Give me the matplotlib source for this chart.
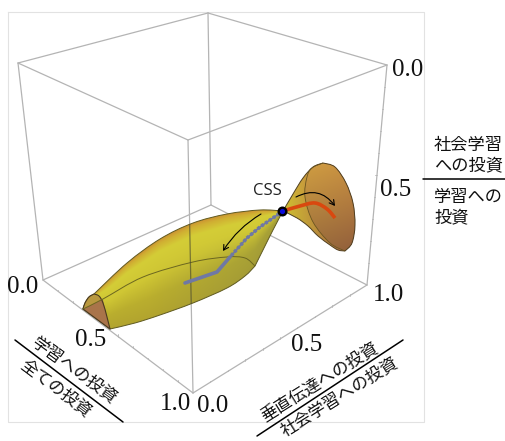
import numpy as np
import matplotlib
matplotlib.use("Agg")
import matplotlib.pyplot as plt
from matplotlib.path import Path
from matplotlib.patches import PathPatch, FancyArrowPatch, Circle

W, H = 505, 441
JP = ['Noto Sans CJK JP', 'DejaVu Sans']
SERIF = 'Liberation Serif'

# cube corners (px)
top_left, top_back, top_right, top_front = (18, 63), (208, 13), (387, 65), (188, 140)
bot_left, bot_back, bot_right, bot_front = (43, 280), (211, 205), (367, 285), (193, 393)

body_top = [(94, 294), (127, 263), (160, 239), (193, 223), (227, 214), (260, 210), (283, 211)]
body_neck = [(283, 211), (273, 230), (263, 250), (255, 266)]
body_bottom = [(255, 266), (245, 276), (227, 288), (193, 303), (160, 315), (135, 323), (110, 329)]
body_tip = [(83, 309), (85, 303), (89, 297), (94, 294)]
cap_right = [(94, 294), (99, 296), (103, 303), (107, 317), (110, 329)]
body_rim = [(83, 309), (103, 299), (143, 277), (193, 262), (227, 257), (245, 258), (255, 266)]
funnel_upper = [(283, 211), (293, 194), (303, 178), (313, 167), (323, 163)]
funnel_right = [(323, 163), (335, 167), (346, 183), (353, 203), (355, 225), (352, 243), (345, 251)]
funnel_lower = [(345, 251), (338, 250), (330, 245), (318, 236), (308, 226), (297, 218), (283, 211)]
funnel_rim = [(323, 163), (312, 168), (307, 177), (305, 197), (313, 222), (330, 243), (345, 251)]

blue_path = [(283, 211), (260, 227), (247, 238), (230, 257), (217, 272), (185, 283)]
red_path = [(283, 211), (300, 206), (315, 203), (327, 209), (335, 218)]

tick_texts = ["0.0", "0.5", "1.0", "0.0", "0.5", "1.0", "0.0", "0.5"]
tick_xy = [(408, 70), (396, 190), (388, 295), (213, 406), (307, 345), (175, 404), (23, 287), (91, 340)]

fig = plt.figure(figsize=(W / 100, H / 100), dpi=100)
ax = fig.add_axes([0, 0, 1, 1])
ax.axis('off')


def curve(pts):
    p = np.array(pts, float)
    n = len(p)
    v = []
    for i in range(n - 1):
        a = p[max(i - 1, 0)]
        b, c = p[i], p[i + 1]
        d = p[min(i + 2, n - 1)]
        v += [b + (c - a) / 6, c - (d - b) / 6, c]
    return p[0], v


def open_path(pts):
    s, v = curve(pts)
    return Path([s] + v, [Path.MOVETO] + [Path.CURVE4] * len(v))


def closed_path(*pieces):
    s, v = curve(pieces[0])
    verts, codes = [s] + v, [Path.MOVETO] + [Path.CURVE4] * len(v)
    for pc in pieces[1:]:
        s2, v2 = curve(pc)
        if not np.allclose(s2, verts[-1]):
            verts.append(s2)
            codes.append(Path.LINETO)
        verts += v2
        codes += [Path.CURVE4] * len(v2)
    verts.append(verts[0])
    codes.append(Path.CLOSEPOLY)
    return Path(verts, codes)


xx, yy = np.meshgrid(np.arange(W) + .5, np.arange(H) + .5)


def paint(img, path, z):
    im = ax.imshow(np.clip(img, 0, 255) / 255, extent=(0, W, H, 0), zorder=z, aspect='auto', interpolation='bilinear')
    im.set_clip_path(PathPatch(path, transform=ax.transData))


def plane(anchors, colors):
    a = np.array(anchors, float)
    A = np.c_[a, np.ones(len(a))]
    coef = np.linalg.lstsq(A, np.array(colors, float), rcond=None)[0]
    return xx[..., None] * coef[0] + yy[..., None] * coef[1] + coef[2]


GRAY = '#b4b4b4'


def seg(a, b, z=1, c=GRAY, lw=0.9):
    ax.plot([a[0], b[0]], [a[1], b[1]], color=c, lw=lw, zorder=z, solid_capstyle='round')


def tick_marks(a, b, nrm):
    a, b = np.array(a, float), np.array(b, float)
    for f in np.arange(0.1, 1, 0.1):
        q = a + (b - a) * f
        ln = 2.5 if abs(f - .5) < .01 else 1.5
        seg(q, q + np.array(nrm) * ln, lw=0.6)


# frame
ax.plot([8, 8, 424, 424, 8], [12, 422, 422, 12, 12], color='#e2e2e2', lw=0.8, zorder=0)

for a, b in [(top_left, top_back), (top_back, top_right), (top_right, top_front), (top_front, top_left),
             (bot_left, bot_back), (bot_back, bot_right), (bot_right, bot_front), (bot_front, bot_left),
             (top_left, bot_left), (top_back, bot_back), (top_right, bot_right), (top_front, bot_front)]:
    seg(a, b)
tick_marks(top_right, bot_right, (-1, 0))
tick_marks(bot_front, bot_right, (0, -1))
tick_marks(bot_left, bot_front, (0, -1))

# body surface
bp = closed_path(body_tip, body_top, body_neck, body_bottom, [(110, 329), (83, 309)])
ut = np.array(body_tip[:1] + body_top, float)
lo = np.array([(83, 309)] + body_bottom[::-1] + [(283, 211)], float)
yt = np.interp(xx, ut[:, 0], ut[:, 1])
yb = np.interp(xx, lo[:, 0], lo[:, 1])
vv = np.clip((yy - yt) / np.maximum(yb - yt, 1), 0, 1)
stops = [0, .05, .16, .42, .72, 1]
cols = np.array([(205, 150, 50), (208, 175, 50), (212, 205, 55), (207, 198, 52), (186, 174, 46), (178, 164, 46)], float)
img = np.stack([np.interp(vv, stops, cols[:, k]) for k in range(3)], -1)
uu = np.clip((xx - 150) / 110, 0, 1)[..., None] * np.clip((vv - .3) / .4, 0, 1)[..., None]
img = img * (1 - .45 * uu) + np.array([145, 145, 65.]) * .45 * uu
paint(img, bp, 3)
ax.add_patch(PathPatch(bp, fc='none', ec='#5f5a20', lw=0.7, zorder=4))

# cap at the thin end
tan = closed_path(body_tip, [(94, 294), (99, 296), (103, 300)], [(103, 299), (83, 309)])
ax.add_patch(PathPatch(tan, fc='#b9983f', ec='none', zorder=5))
brown = closed_path([(83, 309), (103, 299)], [(103, 300), (106, 313), (110, 329)], [(110, 329), (83, 309)])
ax.add_patch(PathPatch(brown, fc='#a9744a', ec='none', zorder=5))
ax.add_patch(PathPatch(open_path(cap_right), fc='none', ec='#4a3a20', lw=0.8, zorder=6))
ax.add_patch(PathPatch(open_path(body_tip), fc='none', ec='#4a3a20', lw=0.8, zorder=6))
ax.plot([83, 110], [309, 329], color='#4a3a20', lw=0.8, zorder=6)
ax.add_patch(PathPatch(open_path(body_rim), fc='none', ec='#6b6620', lw=0.7, zorder=6))

# funnel
fp = closed_path(funnel_upper, funnel_right, funnel_lower)
paint(plane([(288, 209), (305, 180), (318, 232)], [(205, 185, 50), (200, 155, 60), (185, 140, 60)]), fp, 3)
ip = closed_path(funnel_right, funnel_rim[::-1])
paint(plane([(320, 172), (350, 215), (315, 215), (342, 247)], [(200, 150, 65), (170, 115, 62), (175, 125, 62), (150, 102, 60)]), ip, 3.5)
ax.add_patch(PathPatch(fp, fc='none', ec='#4f3f20', lw=0.7, zorder=4))
ax.add_patch(PathPatch(open_path(funnel_rim), fc='none', ec='#6b5520', lw=0.6, zorder=4))

# front vertical seen through the surface
ln, = ax.plot([top_front[0], bot_front[0]], [top_front[1], bot_front[1]], color='#4a4a30', lw=0.9, alpha=.65, zorder=6)
ln.set_clip_path(PathPatch(bp, transform=ax.transData))

# trajectories
bx, by = zip(*blue_path)
ax.plot(bx, by, color='#6f78a5', lw=1.3, zorder=7)
ax.plot(bx[3:], by[3:], color='#6f78a5', lw=2.6, zorder=7, solid_capstyle='round')
ax.plot(bx[:4], by[:4], color='#6f78a5', lw=2.6, ls=(0, (0.8, 0.5)), zorder=7)
ax.add_patch(PathPatch(open_path(red_path), fc='none', ec='#d9480f', lw=2.6, zorder=7))

# arrows
ax.add_patch(FancyArrowPatch((261, 214), (223, 251), connectionstyle='arc3,rad=0.12',
                             arrowstyle='->,head_length=3.5,head_width=2',
                             lw=0.8, color='black', zorder=8, shrinkA=0, shrinkB=0))
ax.add_patch(FancyArrowPatch((296, 197), (335, 206), connectionstyle='arc3,rad=-0.42',
                             arrowstyle='->,head_length=3.5,head_width=2',
                             lw=0.8, color='black', zorder=8, shrinkA=0, shrinkB=0))

# CSS point
ax.add_patch(Circle((282.5, 211.5), 5, fc='black', ec='none', zorder=9))
ax.add_patch(Circle((282.5, 211.5), 2.6, fc='#0a0adc', ec='none', zorder=10))
ax.text(267, 191, 'CSS', family='Open Sans', fontsize=12, ha='center', va='center', color='#222222', zorder=10)

# tick labels
for t, (x, y) in zip(tick_texts, tick_xy):
    ax.text(x, y, t, family=SERIF, fontsize=18, ha='center', va='center', color='#111111', zorder=10)

# axis titles
for s, x, y, rot in [("学習への投資", 75, 370, -36), ("全ての投資", 56, 388, -37),
                     ("垂直伝達への投資", 320, 383, 32), ("社会学習への投資", 339, 397, 32)]:
    ax.text(x, y, s, family=JP, fontsize=12.2, rotation=rot, rotation_mode='anchor', ha='center', va='center',
            color='#111111', zorder=10)
for s, y in [("社会学習", 145), ("への投資", 165), ("学習への", 197), ("投資", 217)]:
    ax.text(434, y, s, family=JP, fontsize=12.4, ha='left', va='center', color='#111111', zorder=10)
seg((15, 340), (123, 422), c='black', lw=1.1)
seg((257, 436), (403, 340), c='black', lw=1.1)
seg((423, 179), (505, 179), c='black', lw=1.1)

ax.set_xlim(0, W)
ax.set_ylim(H, 0)
fig.savefig('out.png', dpi=100)
